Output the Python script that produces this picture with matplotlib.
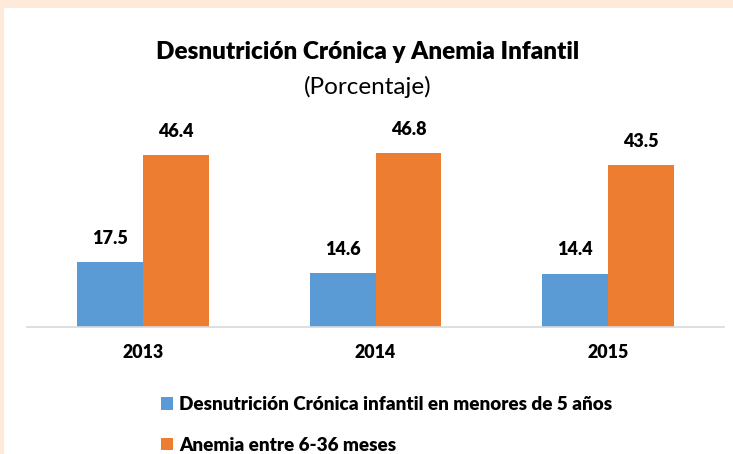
import matplotlib.pyplot as plt
from matplotlib.patches import Patch, Rectangle
import numpy as np

plt.rcParams['font.family'] = ['Lato', 'DejaVu Sans']

years = ['2013', '2014', '2015']
desnutricion = [17.5, 14.6, 14.4]
anemia = [46.4, 46.8, 43.5]
series_labels = ['Desnutrición Crónica infantil en menores de 5 años',
                 'Anemia entre 6-36 meses']
title = 'Desnutrición Crónica y Anemia Infantil'
subtitle = '(Porcentaje)'

blue = '#5B9BD5'
orange = '#ED7D31'
peach = '#FDEADA'

W, H = 733, 454
fig = plt.figure(figsize=(W / 100, H / 100), dpi=100, facecolor='white')

# peach frame along the top and left edges
fig.patches.append(Rectangle((0, 1 - 8 / H), 1, 8 / H, transform=fig.transFigure,
                             facecolor=peach, edgecolor='none', zorder=0))
fig.patches.append(Rectangle((0, 0), 4 / W, 1, transform=fig.transFigure,
                             facecolor=peach, edgecolor='none', zorder=0))

ax = fig.add_axes([27 / W, 1 - 327 / H, 697 / W, 185.7 / H])
ax.set_facecolor('none')

x = np.arange(len(years))
bw = 0.284
b1 = ax.bar(x - bw / 2, desnutricion, bw, color=blue, label=series_labels[0])
b2 = ax.bar(x + bw / 2, anemia, bw, color=orange, label=series_labels[1])

for bars, vals in ((b1, desnutricion), (b2, anemia)):
    for rect, v in zip(bars, vals):
        ax.annotate(f'{v:.1f}', (rect.get_x() + rect.get_width() / 2, v),
                    xytext=(0, 17), textcoords='offset points',
                    ha='center', va='center', fontsize=13, fontweight='heavy')

ax.set_xlim(-0.5, 2.5)
ax.set_ylim(0, 50)
ax.set_xticks(x)
ax.set_xticklabels(years, fontsize=12.8, fontweight='heavy')
ax.tick_params(axis='x', length=0, pad=12)
ax.set_yticks([])
for s in ('left', 'right', 'top'):
    ax.spines[s].set_visible(False)
ax.spines['bottom'].set_color('#D9D9D9')
ax.spines['bottom'].set_linewidth(1.2)

fig.text(368 / W, 1 - 52 / H, title, ha='center', va='center',
         fontsize=17.5, fontweight='heavy')
fig.text(368 / W, 1 - 87 / H, subtitle, ha='center', va='center', fontsize=17.5)

handles = [Patch(facecolor=blue), Patch(facecolor=orange)]
fig.legend(handles, series_labels, loc='upper left',
           bbox_to_anchor=(161 / W, 1 - 396 / H), frameon=False,
           prop={'size': 13.6, 'weight': 'heavy'},
           handlelength=0.65, handleheight=0.65, handletextpad=0.3,
           labelspacing=1.25, borderaxespad=0, borderpad=0)

fig.savefig('out.png', dpi=100, facecolor='white')
